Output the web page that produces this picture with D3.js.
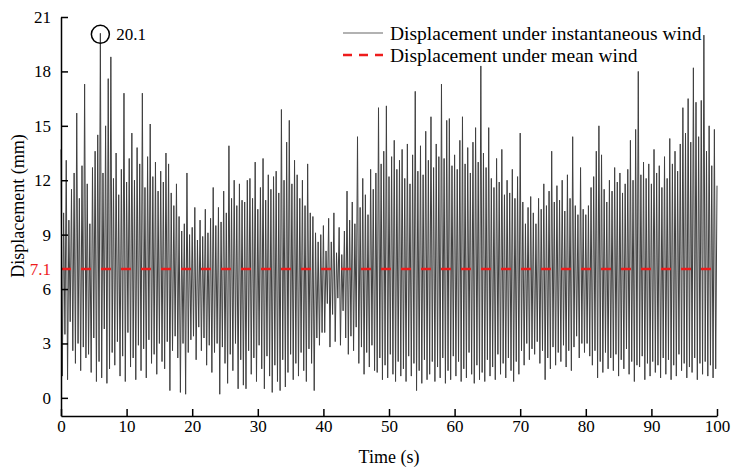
<!DOCTYPE html>
<html>
<head>
<meta charset="utf-8">
<script src="https://cdn.jsdelivr.net/npm/d3@7/dist/d3.min.js"></script>
<style>
    body { margin: 0; background: #fff; }
    text { font-family: "Liberation Serif", "Times New Roman", serif; fill: #000; }
</style>
</head>
<body>
<svg id="chart" width="732" height="472"></svg>
<script>
'use strict';

// sampled every timeStep seconds, starting at t = 0
var timeStep = 0.2;
var displacement = [
    13.7, 1.2, 10.2, 3.5, 13.1, 1.0, 9.8, 4.2, 11.5, 2.6, 12.4, 1.9, 15.7, 3.0, 11.0, 1.5, 12.8, 2.8, 17.3, 2.2,
    11.8, 2.4, 9.6, 1.4, 12.7, 3.3, 13.6, 0.9, 14.5, 2.0, 20.1, 1.1, 12.4, 3.8, 15.0, 0.8, 17.6, 1.6, 18.8, 2.5,
    12.1, 1.8, 13.5, 3.1, 11.2, 1.2, 12.6, 2.3, 16.8, 0.9, 11.9, 3.6, 13.2, 1.7, 14.6, 2.2, 12.0, 1.0, 13.8, 2.9,
    12.9, 1.5, 16.8, 2.7, 11.6, 1.1, 13.3, 3.2, 15.1, 1.9, 12.2, 2.4, 13.0, 1.3, 11.4, 3.0, 12.5, 2.0, 11.9, 1.6,
    13.5, 3.1, 12.9, 0.4, 11.3, 2.6, 10.6, 3.4, 11.8, 2.2, 10.0, 0.3, 9.2, 3.0, 9.6, 0.2, 12.4, 2.5, 9.0, 3.2,
    9.4, 3.4, 10.5, 2.1, 8.7, 3.9, 9.8, 2.6, 8.9, 3.3, 10.4, 1.8, 9.1, 2.9, 9.9, 1.4, 11.6, 2.5, 9.5, 3.0,
    10.5, 0.2, 9.7, 2.8, 11.4, 1.9, 10.2, 0.8, 13.9, 2.4, 11.0, 1.5, 12.0, 3.0, 10.6, 0.5, 11.8, 2.1, 10.9, 0.7,
    10.8, 0.5, 12.0, 2.6, 12.1, 1.3, 11.0, 2.2, 13.0, 0.9, 10.4, 2.9, 11.6, 1.6, 13.2, 0.5, 10.9, 2.3, 12.3, 1.2,
    11.5, 0.3, 12.2, 1.8, 12.5, 0.9, 11.3, 0.4, 15.9, 2.1, 12.0, 0.6, 14.1, 1.4, 15.3, 2.4, 11.8, 1.0, 13.1, 1.9,
    12.3, 1.2, 11.0, 2.5, 12.0, 1.5, 10.6, 0.9, 12.9, 2.7, 10.2, 1.9, 10.0, 0.4, 9.1, 3.3, 8.6, 2.9, 9.0, 3.6,
    9.5, 3.6, 8.1, 5.2, 9.9, 2.8, 8.6, 4.6, 10.2, 3.1, 8.0, 5.5, 9.4, 2.9, 7.9, 4.8, 9.2, 3.3, 11.4, 2.4,
    9.8, 3.4, 10.8, 2.6, 9.6, 3.9, 14.4, 1.9, 10.5, 2.8, 12.1, 1.3, 11.2, 2.5, 10.1, 1.7, 12.6, 2.9, 11.5, 1.5,
    12.4, 1.4, 16.0, 2.2, 12.9, 1.0, 13.6, 1.8, 16.1, 1.1, 12.2, 2.4, 13.3, 1.3, 14.2, 0.9, 12.6, 2.0, 13.1, 1.2,
    13.7, 1.6, 12.1, 0.9, 14.0, 2.3, 11.8, 1.2, 13.4, 1.9, 16.9, 0.4, 12.5, 1.5, 13.9, 0.8, 12.3, 2.1, 14.7, 1.0,
    13.1, 1.3, 15.5, 2.0, 12.7, 0.9, 14.0, 1.7, 13.3, 1.1, 17.3, 2.2, 13.2, 0.8, 15.3, 1.5, 15.4, 1.0, 12.8, 2.3,
    13.4, 1.2, 12.6, 2.0, 14.2, 0.9, 15.5, 1.6, 12.9, 1.1, 13.8, 2.5, 12.4, 1.3, 14.1, 0.8, 14.9, 1.8, 13.0, 1.0,
    18.3, 1.4, 13.5, 0.9, 12.7, 2.1, 14.9, 1.2, 12.1, 1.7, 11.6, 1.0, 13.2, 2.4, 11.9, 1.3, 13.7, 1.9, 11.2, 1.1,
    12.0, 2.2, 11.3, 1.5, 12.6, 0.9, 11.0, 2.0, 12.2, 1.3, 14.6, 2.6, 10.8, 1.8, 9.6, 3.0, 10.5, 2.1, 11.1, 2.7,
    10.2, 2.4, 9.6, 3.1, 11.0, 1.9, 10.4, 2.6, 11.8, 1.0, 10.6, 2.2, 11.4, 1.6, 13.6, 2.8, 10.8, 1.8, 11.7, 2.5,
    10.9, 2.0, 12.0, 2.9, 10.3, 1.7, 12.3, 2.6, 11.0, 1.5, 14.4, 2.8, 10.6, 3.4, 10.1, 2.2, 12.7, 3.0, 10.4, 2.5,
    10.1, 3.0, 10.6, 2.3, 11.6, 1.8, 12.2, 2.6, 13.6, 1.1, 15.0, 2.0, 13.4, 1.4, 11.5, 2.5, 10.8, 1.6, 12.0, 2.2,
    11.4, 1.5, 12.7, 2.4, 11.9, 1.2, 12.4, 2.1, 11.3, 1.6, 11.8, 2.7, 12.6, 1.3, 14.2, 2.0, 12.0, 0.9, 14.8, 1.8,
    18.0, 1.7, 12.3, 2.3, 13.0, 1.0, 12.1, 1.9, 12.9, 1.2, 11.8, 2.0, 13.7, 1.4, 12.4, 1.8, 12.8, 1.1, 11.6, 2.2,
    13.3, 1.3, 12.1, 2.1, 14.3, 1.0, 12.9, 1.8, 13.6, 1.2, 12.5, 2.4, 14.0, 1.5, 16.0, 1.9, 14.6, 1.1, 16.5, 1.7,
    14.1, 1.4, 18.2, 2.2, 16.3, 1.0, 14.4, 1.9, 16.4, 1.3, 20.0, 2.0, 13.6, 1.2, 15.0, 1.8, 12.8, 1.1, 14.8, 1.6,
    11.7
];
var meanDisplacement = 7.1;

var xTickValues = [0, 10, 20, 30, 40, 50, 60, 70, 80, 90, 100];
var yTickValues = [0, 3, 6, 9, 12, 15, 18, 21];
var legendLabels = ['Displacement under instantaneous wind', 'Displacement under mean wind'];

var width = 732,
    height = 472,
    margin = { top: 17, right: 15, bottom: 56, left: 61 },
    lineColor = '#404040',
    meanColor = '#ee1c1c';

var svg = d3.select('#chart');

svg.append('rect')
    .attr('width', width)
    .attr('height', height)
    .attr('fill', '#fff');

var x = d3.scaleLinear()
    .domain([0, 100])
    .range([margin.left, width - margin.right]);

var y = d3.scaleLinear()
    .domain([-1, 21])
    .range([height - margin.bottom, margin.top]);

var series = displacement.map(function (v, i) {
    return { t: i * timeStep, v: v };
});

// time history
svg.append('path')
    .datum(series)
    .attr('fill', 'none')
    .attr('stroke', lineColor)
    .attr('stroke-width', 1)
    .attr('d', d3.line()
        .x(function (d) { return x(d.t); })
        .y(function (d) { return y(d.v); }));

// mean wind line
svg.append('line')
    .attr('x1', x(0))
    .attr('x2', x(100))
    .attr('y1', y(meanDisplacement))
    .attr('y2', y(meanDisplacement))
    .attr('stroke', meanColor)
    .attr('stroke-width', 2.5)
    .attr('stroke-dasharray', '10,10');

// axes
var xAxis = svg.append('g')
    .attr('transform', 'translate(0,' + (height - margin.bottom) + ')')
    .call(d3.axisBottom(x)
        .tickValues(xTickValues)
        .tickSizeInner(-7)
        .tickSizeOuter(0)
        .tickPadding(4));

var yAxis = svg.append('g')
    .attr('transform', 'translate(' + margin.left + ',0)')
    .call(d3.axisLeft(y)
        .tickValues(yTickValues)
        .tickSizeInner(-7)
        .tickSizeOuter(0)
        .tickPadding(10));

[xAxis, yAxis].forEach(function (g) {
    g.select('.domain').attr('stroke', '#000').attr('stroke-width', 1.5);
    g.selectAll('.tick line').attr('stroke', '#000').attr('stroke-width', 1.5);
    g.selectAll('.tick text')
        .attr('font-family', '"Liberation Serif", "Times New Roman", serif')
        .attr('font-size', 17)
        .attr('fill', '#000');
});

// mean value label on the y axis
svg.append('text')
    .attr('x', margin.left - 10)
    .attr('y', y(meanDisplacement))
    .attr('dy', '0.32em')
    .attr('text-anchor', 'end')
    .attr('font-size', 17)
    .style('fill', meanColor)
    .text(meanDisplacement.toFixed(1));

// axis titles
svg.append('text')
    .attr('x', (x(0) + x(100)) / 2)
    .attr('y', 463)
    .attr('text-anchor', 'middle')
    .attr('font-size', 18)
    .text('Time (s)');

svg.append('text')
    .attr('transform', 'translate(24,206) rotate(-90)')
    .attr('text-anchor', 'middle')
    .attr('font-size', 18)
    .text('Displacement (mm)');

// peak annotation
var peakIndex = d3.maxIndex(series, function (d) { return d.v; }),
    peak = series[peakIndex];

svg.append('circle')
    .attr('cx', x(peak.t))
    .attr('cy', y(peak.v) + 1)
    .attr('r', 9)
    .attr('fill', 'none')
    .attr('stroke', '#000')
    .attr('stroke-width', 1.5);

svg.append('text')
    .attr('x', x(peak.t) + 16)
    .attr('y', y(peak.v) + 1)
    .attr('dy', '0.35em')
    .attr('font-size', 17)
    .text(peak.v.toFixed(1));

// legend
var legend = svg.append('g')
    .attr('transform', 'translate(343,33)');

legend.append('line')
    .attr('x1', 0).attr('x2', 40)
    .attr('y1', 0).attr('y2', 0)
    .attr('stroke', '#666')
    .attr('stroke-width', 1.2);

legend.append('line')
    .attr('x1', 0).attr('x2', 40)
    .attr('y1', 22).attr('y2', 22)
    .attr('stroke', meanColor)
    .attr('stroke-width', 2.5)
    .attr('stroke-dasharray', '9,7');

legend.selectAll('text.label')
    .data(legendLabels)
    .enter()
    .append('text')
    .attr('class', 'label')
    .attr('x', 47)
    .attr('y', function (d, i) { return i * 22; })
    .attr('dy', '0.35em')
    .attr('font-size', 19.5)
    .text(function (d) { return d; });
</script>
</body>
</html>
